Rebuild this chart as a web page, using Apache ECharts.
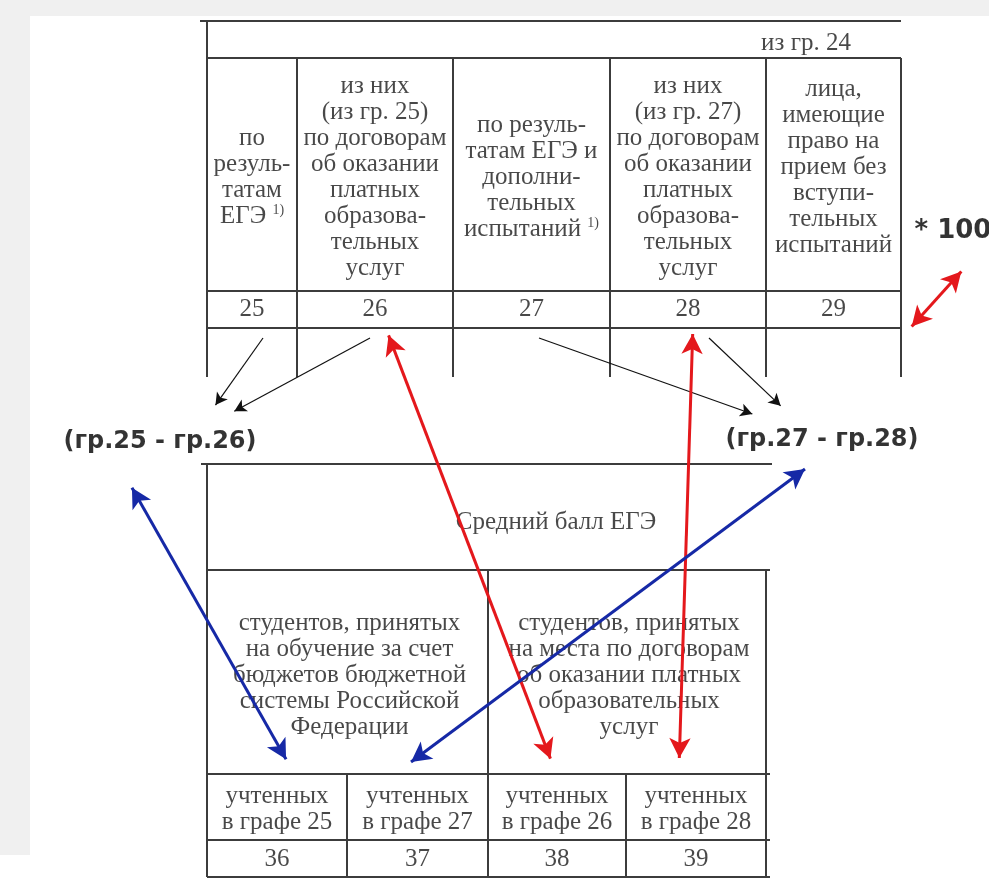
<!DOCTYPE html>
<html>
<head>
<meta charset="utf-8">
<script src="https://cdn.jsdelivr.net/npm/echarts@6/dist/echarts.min.js"></script>
<style>
  html, body { margin: 0; padding: 0; background: #fff; }
  #main { width: 989px; height: 879px; }
</style>
</head>
<body>
<div id="main"></div>
<script>
// верхняя таблица (гр. 25-29)
const topColX = [207, 297, 453, 610, 766, 901];
const topRowY = [21, 58, 291, 328, 377];
const topCaption = 'из гр. 24';
const topHeaders = [
  'по\nрезуль-\nтатам\nЕГЭ {s|1)}',
  'из них\n(из гр. 25)\nпо договорам\nоб оказании\nплатных\nобразова-\nтельных\nуслуг',
  'по резуль-\nтатам ЕГЭ и\nдополни-\nтельных\nиспытаний {s|1)}',
  'из них\n(из гр. 27)\nпо договорам\nоб оказании\nплатных\nобразова-\nтельных\nуслуг',
  'лица,\nимеющие\nправо на\nприем без\nвступи-\nтельных\nиспытаний'
];
const topHeaderY = [177, 177, 177, 177, 167];
const topNumbers = ['25', '26', '27', '28', '29'];

// нижняя таблица (гр. 36-39)
const botColX = [207, 347, 488, 626, 766];
const botRowY = [464, 570, 774, 840, 877];
const botCaption = 'Средний балл ЕГЭ';
const botGroups = [
  'студентов, принятых\nна обучение за счет\nбюджетов бюджетной\nсистемы Российской\nФедерации',
  'студентов, принятых\nна места по договорам\nоб оказании платных\nобразовательных\nуслуг'
];
const botSubheads = ['учтенных\nв графе 25', 'учтенных\nв графе 27', 'учтенных\nв графе 26', 'учтенных\nв графе 28'];
const botNumbers = ['36', '37', '38', '39'];

// формулы
const formulaLabels = ['(гр.25 - гр.26)', '(гр.27 - гр.28)', '* 100'];

// стрелки: [начало, конец]
const blackArrows = [
  [[263, 338], [212, 410]],
  [[370, 338], [229, 414]],
  [[539, 338], [758, 416]],
  [[709, 338], [785, 410]]
];
const redArrows = [
  [[385, 326], [554, 768]],
  [[693, 324], [679, 768]],
  [[905, 334], [968, 264]]
];
const blueArrows = [
  [[127, 479], [291, 768]],
  [[813, 463], [403, 768]]
];

const chart = echarts.init(document.getElementById('main'));

function seg(x1, y1, x2, y2) {
  return { coords: [[x1, y1], [x2, y2]] };
}
function mid(a, b) { return (a + b) / 2; }

// линии таблиц
const tableLines = [];
tableLines.push(seg(200, topRowY[0], topColX[5], topRowY[0]));
for (let i = 1; i < 4; i++) {
  tableLines.push(seg(topColX[0], topRowY[i], topColX[5], topRowY[i]));
}
tableLines.push(seg(topColX[0], topRowY[0], topColX[0], topRowY[4]));
for (let i = 1; i < topColX.length; i++) {
  tableLines.push(seg(topColX[i], topRowY[1], topColX[i], topRowY[4]));
}
tableLines.push(seg(201, botRowY[0], 772, botRowY[0]));
for (let i = 1; i < botRowY.length; i++) {
  tableLines.push(seg(botColX[0], botRowY[i], 770, botRowY[i]));
}
tableLines.push(seg(botColX[0], botRowY[0], botColX[0], botRowY[4]));
tableLines.push(seg(botColX[2], botRowY[1], botColX[2], botRowY[4]));
tableLines.push(seg(botColX[4], botRowY[1], botColX[4], botRowY[4]));
tableLines.push(seg(botColX[1], botRowY[2], botColX[1], botRowY[4]));
tableLines.push(seg(botColX[3], botRowY[2], botColX[3], botRowY[4]));

// укорачиваем концы, чтобы острие стрелки попало в точку
function arrowData(list, headLen, both) {
  return list.map(function (p) {
    const a = p[0], b = p[1];
    const dx = b[0] - a[0], dy = b[1] - a[1];
    const len = Math.hypot(dx, dy);
    const k = headLen / 2;
    const ux = dx / len * k, uy = dy / len * k;
    const start = both ? [a[0] + ux, a[1] + uy] : a;
    return { coords: [start, [b[0] - ux, b[1] - uy]] };
  });
}

// тексты
const serif = {
  color: '#1a1a1a',
  fontFamily: 'Liberation Serif',
  fontSize: 25,
  lineHeight: 26,
  rich: {
    s: { fontFamily: 'Liberation Serif', fontSize: 14, color: '#1a1a1a', verticalAlign: 'top', lineHeight: 14 }
  }
};
const serifItems = [];
serifItems.push({ name: topCaption, value: [806, 43] });
topHeaders.forEach(function (t, i) {
  serifItems.push({ name: t, value: [mid(topColX[i], topColX[i + 1]), topHeaderY[i]] });
});
topNumbers.forEach(function (t, i) {
  serifItems.push({ name: t, value: [mid(topColX[i], topColX[i + 1]), mid(topRowY[2], topRowY[3])] });
});
serifItems.push({ name: botCaption, value: [556, 522] });
botGroups.forEach(function (t, i) {
  serifItems.push({ name: t, value: [mid(botColX[i * 2], botColX[i * 2 + 2]) + 2, 675] });
});
botSubheads.forEach(function (t, i) {
  serifItems.push({ name: t, value: [mid(botColX[i], botColX[i + 1]), mid(botRowY[2], botRowY[3]) + 2] });
});
botNumbers.forEach(function (t, i) {
  serifItems.push({ name: t, value: [mid(botColX[i], botColX[i + 1]), mid(botRowY[3], botRowY[4]) + 1] });
});

const sansItems = [
  { name: formulaLabels[0], value: [160, 442] },
  { name: formulaLabels[1], value: [822, 440] }
];
const factorItems = [{ name: formulaLabels[2], value: [914, 231] }];

function textSeries(items, label, z) {
  return {
    type: 'scatter',
    silent: true,
    symbol: 'rect',
    symbolSize: 1,
    z: z,
    itemStyle: { color: 'rgba(0,0,0,0)' },
    label: Object.assign({
      show: true,
      position: 'inside',
      formatter: function (p) { return p.name; }
    }, label),
    data: items
  };
}

chart.setOption({
  animation: false,
  backgroundColor: '#ffffff',
  graphic: [
    { type: 'rect', shape: { x: 0, y: 0, width: 989, height: 16 }, style: { fill: '#f0f0f0' }, z: -10, silent: true },
    { type: 'rect', shape: { x: 0, y: 0, width: 30, height: 855 }, style: { fill: '#f0f0f0' }, z: -10, silent: true }
  ],
  grid: { left: 0, right: 0, top: 0, bottom: 0 },
  xAxis: { type: 'value', min: 0, max: 989, show: false },
  yAxis: { type: 'value', min: 0, max: 879, inverse: true, show: false },
  series: [
    {
      type: 'lines',
      coordinateSystem: 'cartesian2d',
      silent: true,
      z: 2,
      lineStyle: { color: '#3c3c3c', width: 2, opacity: 1 },
      data: tableLines
    },
    textSeries(serifItems, serif, 3),
    textSeries(sansItems, {
      color: '#000', fontFamily: 'DejaVu Sans', fontWeight: 'bold', fontSize: 24
    }, 3),
    textSeries(factorItems, {
      position: 'right', distance: 0,
      color: '#000', fontFamily: 'DejaVu Sans', fontWeight: 'bold', fontSize: 26
    }, 3),
    {
      type: 'lines',
      coordinateSystem: 'cartesian2d',
      silent: true,
      z: 4,
      symbol: ['none', 'arrow'],
      symbolSize: [0, [10, 12]],
      lineStyle: { color: '#111', width: 1.2, opacity: 1 },
      data: arrowData(blackArrows, 12, false)
    },
    {
      type: 'lines',
      coordinateSystem: 'cartesian2d',
      silent: true,
      z: 5,
      symbol: ['arrow', 'arrow'],
      symbolSize: [[16, 20], [16, 20]],
      lineStyle: { color: '#e4181c', width: 3, opacity: 1 },
      data: arrowData(redArrows, 20, true)
    },
    {
      type: 'lines',
      coordinateSystem: 'cartesian2d',
      silent: true,
      z: 5,
      symbol: ['arrow', 'arrow'],
      symbolSize: [[16, 20], [16, 20]],
      lineStyle: { color: '#1629a6', width: 3, opacity: 1 },
      data: arrowData(blueArrows, 20, true)
    }
  ]
});
</script>
</body>
</html>
